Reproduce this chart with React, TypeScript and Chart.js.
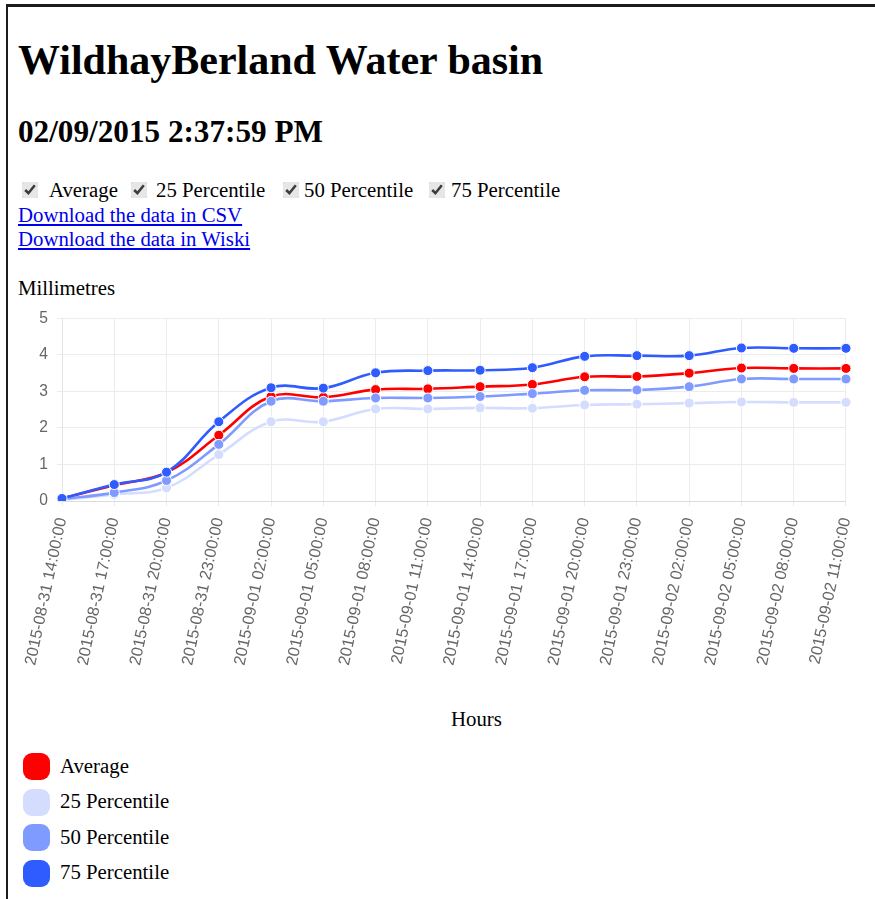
import React, { useEffect, useRef } from "react";
import { Chart, registerables } from "chart.js";

Chart.register(...registerables);

const hours = [
  "2015-08-31 14:00:00", "2015-08-31 17:00:00", "2015-08-31 20:00:00", "2015-08-31 23:00:00",
  "2015-09-01 02:00:00", "2015-09-01 05:00:00", "2015-09-01 08:00:00", "2015-09-01 11:00:00",
  "2015-09-01 14:00:00", "2015-09-01 17:00:00", "2015-09-01 20:00:00", "2015-09-01 23:00:00",
  "2015-09-02 02:00:00", "2015-09-02 05:00:00", "2015-09-02 08:00:00", "2015-09-02 11:00:00",
];

const average = [0.07, 0.43, 0.78, 1.80, 2.86, 2.84, 3.05, 3.07, 3.13, 3.19, 3.40, 3.41, 3.50, 3.64, 3.63, 3.63];
const p25 = [0.03, 0.18, 0.36, 1.27, 2.17, 2.17, 2.52, 2.52, 2.55, 2.54, 2.63, 2.65, 2.68, 2.71, 2.70, 2.70];
const p50 = [0.05, 0.23, 0.56, 1.55, 2.73, 2.73, 2.82, 2.82, 2.86, 2.94, 3.03, 3.04, 3.13, 3.34, 3.34, 3.34];
const p75 = [0.07, 0.45, 0.79, 2.17, 3.10, 3.09, 3.51, 3.57, 3.58, 3.65, 3.96, 3.98, 3.98, 4.19, 4.18, 4.18];

const seriesNames = ["Average", "25 Percentile", "50 Percentile", "75 Percentile"];
const seriesColors = ["#ff0000", "#d5ddff", "#809bff", "#2f5cff"];
const seriesData = [average, p25, p50, p75];

const serif = '"Liberation Serif", "Times New Roman", serif';
const sans = '"Liberation Sans", Arial, Helvetica, sans-serif';

function Text(props: { x: number; baseline: number; size: number; bold?: boolean; children: any; color?: string; underline?: boolean }) {
  const top = props.baseline - props.size * 0.8375;
  return (
    <div
      style={{
        position: "absolute",
        left: props.x,
        top,
        fontFamily: serif,
        fontSize: props.size,
        lineHeight: props.size + "px",
        fontWeight: props.bold ? "bold" : "normal",
        color: props.color || "#000",
        textDecoration: props.underline ? "underline" : "none",
        whiteSpace: "nowrap",
      }}
    >
      {props.children}
    </div>
  );
}

export default function App() {
  const canvasRef = useRef<HTMLCanvasElement>(null);

  useEffect(() => {
    const canvas = canvasRef.current;
    if (!canvas) return;
    const chart = new Chart(canvas, {
      type: "line",
      data: {
        labels: hours,
        datasets: seriesData.map((d, i) => ({
          label: seriesNames[i],
          data: d,
          borderColor: seriesColors[i],
          backgroundColor: seriesColors[i],
          pointBackgroundColor: seriesColors[i],
          pointBorderColor: "#fff",
          pointBorderWidth: 1,
          pointRadius: 5,
          borderWidth: 2.6,
          tension: 0.4,
          fill: false,
          order: seriesData.length - i,
        })),
      },
      options: {
        responsive: false,
        animation: false,
        layout: { padding: { top: 16, right: 26, left: 0, bottom: 0 } },
        plugins: { legend: { display: false }, tooltip: { enabled: false } },
        scales: {
          x: {
            grid: { color: "#ececec", tickLength: 5, drawTicks: true },
            border: { color: "#dcdcdc" },
            ticks: {
              autoSkip: false,
              minRotation: 78,
              maxRotation: 78,
              padding: 10,
              color: "#666",
              font: { family: sans, size: 16.2 },
            },
            afterFit: (scale: any) => {
              scale.height = 179;
            },
          },
          y: {
            min: 0,
            max: 5,
            grid: { color: "#ececec", tickLength: 5 },
            border: { color: "#e4e4e4" },
            ticks: {
              stepSize: 1,
              padding: 9,
              color: "#666",
              font: { family: sans, size: 15.6 },
            },
            afterFit: (scale: any) => {
              scale.width = 62;
            },
          },
        },
      },
    });
    return () => chart.destroy();
  }, []);

  const checkX = [22, 131, 283, 429];
  const labelX = [49, 156, 304, 451];

  return (
    <div>
      <div
        style={{
          position: "absolute",
          left: 6,
          top: 4,
          width: 869,
          height: 895,
          boxSizing: "border-box",
          borderTop: "3px solid #1c1c1c",
          borderLeft: "2px solid #1c1c1c",
        }}
      />
      <Text x={18} baseline={74} size={42} bold>WildhayBerland Water basin</Text>
      <Text x={18} baseline={142} size={31.2} bold>02/09/2015 2:37:59 PM</Text>
      {seriesNames.map((n, i) => (
        <React.Fragment key={n}>
          <input
            type="checkbox"
            checked
            readOnly
            style={{
              position: "absolute",
              left: checkX[i],
              top: 182,
              width: 16,
              height: 16,
              margin: 0,
              accentColor: "#e6e6e6",
            }}
          />
          <Text x={labelX[i]} baseline={197} size={20.8}>{n}</Text>
        </React.Fragment>
      ))}
      <Text x={18} baseline={222} size={20.8} color="#0000ee" underline>Download the data in CSV</Text>
      <Text x={18} baseline={246} size={20.8} color="#0000ee" underline>Download the data in Wiski</Text>
      <Text x={18} baseline={295} size={20.8}>Millimetres</Text>
      <canvas
        ref={canvasRef}
        width={875}
        height={380}
        style={{ position: "absolute", left: 0, top: 300, width: 875, height: 380, display: "block" }}
      />
      <Text x={451} baseline={726} size={20.8}>Hours</Text>
      {seriesNames.map((n, i) => (
        <React.Fragment key={"lg" + n}>
          <div
            style={{
              position: "absolute",
              left: 23,
              top: 753 + i * 35.6,
              width: 27,
              height: 27,
              borderRadius: 9,
              background: seriesColors[i],
            }}
          />
          <Text x={60} baseline={773 + i * 35.6} size={20.8}>{n}</Text>
        </React.Fragment>
      ))}
    </div>
  );
}
